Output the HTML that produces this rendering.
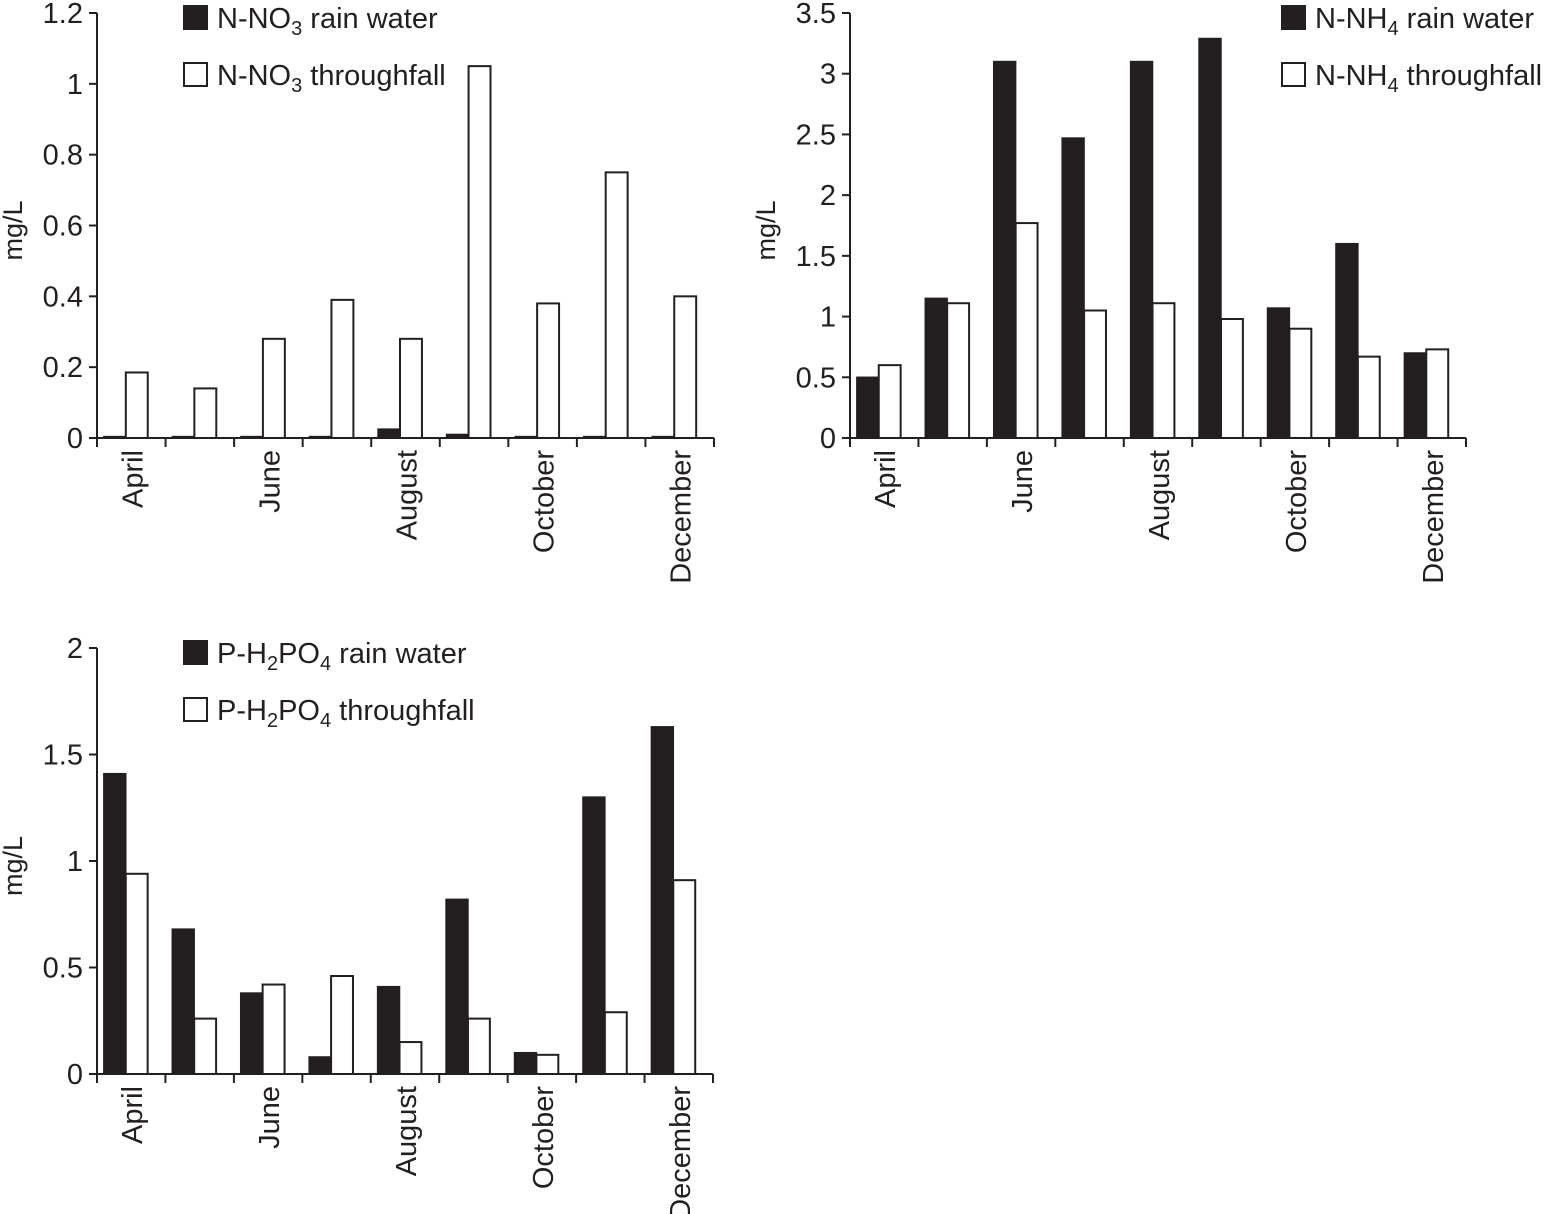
<!DOCTYPE html>
<html><head><meta charset="utf-8"><style>
body{margin:0;background:#fff;}
svg{display:block;font-family:"Liberation Sans",Arial,sans-serif;}
text{fill:#231f20;}
</style></head><body>
<svg id="s" width="1544" height="1214" viewBox="0 0 1544 1214" xmlns="http://www.w3.org/2000/svg"></svg>
<script>
const months = ["April","May","June","July","August","September","October","November","December"];
const no3Rain = [0.004,0.004,0.004,0.004,0.025,0.01,0.004,0.004,0.004];
const no3Through = [0.185,0.14,0.28,0.39,0.28,1.05,0.38,0.75,0.40];
const no3Ticks = [0,0.2,0.4,0.6,0.8,1,1.2];
const nh4Rain = [0.5,1.15,3.1,2.47,3.1,3.29,1.07,1.6,0.7];
const nh4Through = [0.6,1.11,1.77,1.05,1.11,0.98,0.9,0.67,0.73];
const nh4Ticks = [0,0.5,1,1.5,2,2.5,3,3.5];
const po4Rain = [1.41,0.68,0.38,0.08,0.41,0.82,0.10,1.30,1.63];
const po4Through = [0.94,0.26,0.42,0.46,0.15,0.26,0.09,0.29,0.91];
const po4Ticks = [0,0.5,1,1.5,2];

const svg = document.getElementById('s');
const NS = "http://www.w3.org/2000/svg";
const FS = 29;
function mk(tag, attrs, parent){const e=document.createElementNS(NS,tag);for(const k in attrs)e.setAttribute(k,attrs[k]);(parent||svg).appendChild(e);return e;}

function chart(cfg){
  const g = mk('g',{});
  
  
  const x0=cfg.x0, x1=cfg.x1, y0=cfg.y0, yT=cfg.yT, max=cfg.ticks[cfg.ticks.length-1];
  const ys = v => y0 - (v/max)*(y0-yT);
  const cw = (x1-x0)/months.length;
  const xs = i => x0 + i*cw;
  const ax = mk('path',{d:`M${x0} ${yT}V${y0}H${x1}`,stroke:'#231f20','stroke-width':2,fill:'none'},g);
  
  
  cfg.ticks.forEach(t=>{
    mk('line',{x1:x0-8,x2:x0,y1:ys(t),y2:ys(t),stroke:'#231f20','stroke-width':2},g);
    const tx=mk('text',{x:x0-14,y:ys(t)+10,'text-anchor':'end','font-size':FS},g);
    tx.textContent=String(t);
    
    
  });
  for(let i=0;i<=months.length;i++) mk('line',{x1:xs(i),x2:xs(i),y1:y0,y2:y0+9,stroke:'#231f20','stroke-width':2},g);
  months.forEach((m,i)=>{
    const bw=cw*0.32, off=cw*0.1;
    const b=mk('rect',{x:xs(i)+off,y:ys(cfg.rain[i]),width:bw,height:y0-ys(cfg.rain[i]),fill:'#231f20',stroke:'#231f20','stroke-width':1.5},g);
    
    
    const w=mk('rect',{x:xs(i)+off+bw,y:ys(cfg.through[i]),width:bw,height:y0-ys(cfg.through[i]),fill:'#fff',stroke:'#231f20','stroke-width':2},g);
    
    
    if(i%2===0){
      const cx=xs(i)+cw/2+11;
      const l=mk('text',{x:0,y:0,'text-anchor':'end','font-size':FS,transform:`translate(${cx},${y0+12}) rotate(-90)`},g);
      l.textContent=m;
      
      
    }
  });
  const yl=mk('text',{x:0,y:0,'text-anchor':'middle','font-size':FS-2,transform:`translate(${cfg.ylx},${(y0+yT)/2+5}) rotate(-90)`},g);
  yl.textContent='mg/L';
  
  
  [[cfg.leg[0],'#231f20',cfg.ly],[cfg.leg[1],'#fff',cfg.ly+57]].forEach(([html,fill,ly],k)=>{
    mk('rect',{x:cfg.lx,y:ly,width:23,height:23,fill:fill,stroke:'#231f20','stroke-width':2},g);
    const t=mk('text',{x:cfg.lx+33,y:ly+22,'font-size':FS},g);
    t.innerHTML=html;
    
    
  });
}
const sub=s=>`<tspan dy="7" font-size="20">${s}</tspan><tspan dy="-7">`;
chart({name:'no3-chart',x0:97,x1:714,y0:438,yT:13,ticks:no3Ticks,rain:no3Rain,through:no3Through,ylx:22,lx:184,ly:6,
  leg:[`N-NO${sub('3')} rain water</tspan>`,`N-NO${sub('3')} throughfall</tspan>`]});
chart({name:'nh4-chart',x0:850,x1:1466,y0:438,yT:13,ticks:nh4Ticks,rain:nh4Rain,through:nh4Through,ylx:775,lx:1282,ly:6,
  leg:[`N-NH${sub('4')} rain water</tspan>`,`N-NH${sub('4')} throughfall</tspan>`]});
chart({name:'po4-chart',x0:97,x1:713,y0:1074,yT:648,ticks:po4Ticks,rain:po4Rain,through:po4Through,ylx:22,lx:184,ly:641,
  leg:[`P-H${sub('2')}PO${sub('4')} rain water</tspan></tspan>`,`P-H${sub('2')}PO${sub('4')} throughfall</tspan></tspan>`]});
</script>
</body></html>
